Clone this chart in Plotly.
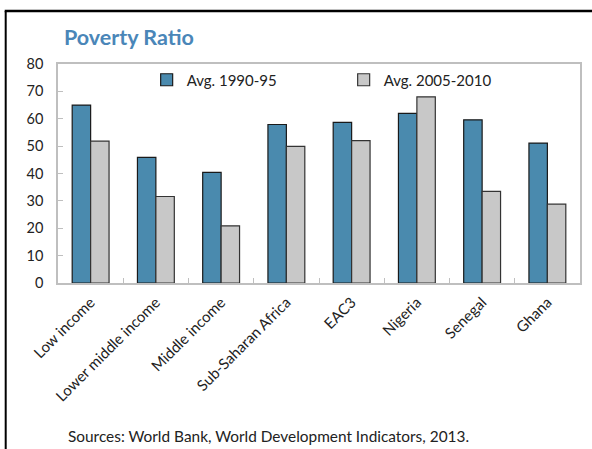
import plotly.graph_objects as go

categories = ["Low income", "Lower middle income", "Middle income",
              "Sub-Saharan Africa", "EAC3", "Nigeria", "Senegal", "Ghana"]
avg_1990_95 = [65.0, 45.9, 40.4, 57.9, 58.7, 62.0, 59.6, 51.1]
avg_2005_2010 = [51.8, 31.6, 20.9, 49.9, 52.0, 68.0, 33.5, 28.8]
series_names = ["Avg. 1990-95", "Avg. 2005-2010"]
y_ticks = [0, 10, 20, 30, 40, 50, 60, 70, 80]

W, H = 592, 449
ML, MR, MT, MB = 58, 10, 64, 166
PW, PH = W - ML - MR, H - MT - MB

def px_x(p):
    return (p - ML) / PW

def px_y(p):
    return (H - MB - p) / PH

FONT = "Lato"

fig = go.Figure()
fig.add_trace(go.Bar(
    x=categories, y=avg_1990_95, name=series_names[0],
    marker=dict(color="#4A8AAE", line=dict(color="#1a1a1a", width=1.2)),
))
fig.add_trace(go.Bar(
    x=categories, y=avg_2005_2010, name=series_names[1],
    marker=dict(color="#C8C8C8", line=dict(color="#333333", width=1.2)),
))

fig.update_layout(
    width=W, height=H,
    margin=dict(l=ML, r=MR, t=MT, b=MB),
    paper_bgcolor="white", plot_bgcolor="white",
    barmode="group", bargap=0.435, bargroupgap=0,
    font=dict(family=FONT, size=14, color="#222222"),
    showlegend=True,
    legend=dict(
        orientation="h", x=px_x(147), y=px_y(80), xanchor="left", yanchor="middle",
        bgcolor="rgba(0,0,0,0)", font=dict(family=FONT, size=15, color="#222222"),
        entrywidth=152, entrywidthmode="pixels", traceorder="normal",
    ),
    xaxis=dict(
        showline=True, linecolor="#BFBFBF", linewidth=1.5, mirror=True,
        ticks="inside", ticklen=5, tickcolor="#BFBFBF", tickson="boundaries",
        tickangle=-45, tickfont=dict(family=FONT, size=15, color="#222222"),
        ticklabelstandoff=3,
        showgrid=False, zeroline=False,
    ),
    yaxis=dict(
        range=[0, 80], tickvals=y_ticks,
        showline=True, linecolor="#BFBFBF", linewidth=1.5, mirror=True,
        ticks="inside", ticklen=5, tickcolor="#BFBFBF",
        tickfont=dict(family=FONT, size=14.5, color="#222222"),
        ticklabelstandoff=10,
        showgrid=False, zeroline=False,
    ),
)

# chart heading
fig.add_annotation(
    text="<b>Poverty Ratio</b>", xref="paper", yref="paper",
    x=px_x(62), y=px_y(37), xanchor="left", yanchor="middle",
    showarrow=False, font=dict(family=FONT, size=21.5, color="#4A86B8"),
)
# source note
fig.add_annotation(
    text="Sources: World Bank, World Development Indicators, 2013.",
    xref="paper", yref="paper", x=px_x(66), y=px_y(436),
    xanchor="left", yanchor="middle", showarrow=False,
    font=dict(family=FONT, size=15.4, color="#222222"),
)
# panel frame (left and top edges)
fig.add_shape(type="line", xref="paper", yref="paper",
              x0=px_x(5.5), x1=px_x(5.5), y0=px_y(11), y1=px_y(452),
              line=dict(color="black", width=2))
fig.add_shape(type="line", xref="paper", yref="paper",
              x0=px_x(4.5), x1=px_x(600), y0=px_y(11), y1=px_y(11),
              line=dict(color="black", width=2.5))

fig.write_html("out.html")
